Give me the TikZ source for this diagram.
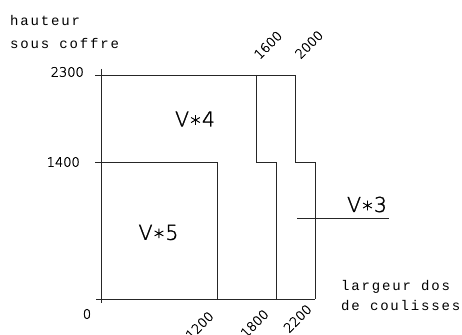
\documentclass[tikz,border=0pt]{standalone}
\usepackage{fontspec}
\setmainfont{DejaVu Sans ExtraLight}[FakeBold=1.5]
\newfontfamily\wordfont{Liberation Mono}[LetterSpace=13]
\begin{document}
\begin{tikzpicture}[x=1pt,y=-1pt,
  ln/.style={line width=0.8pt,draw=black!85},
  num/.style={inner sep=0pt,font=\fontsize{13}{14}\selectfont},
  word/.style={inner sep=0pt,font=\fontsize{14}{15}\wordfont},
  vlab/.style={inner sep=0pt,font=\fontsize{20.5}{22}\selectfont}]
\useasboundingbox (0,0) rectangle (462,334);
% axes
\draw[ln] (101,69) -- (101,303);
\draw[ln] (96,299) -- (315,299);
% curves
\draw[ln] (95,75) -- (295,75);
\draw[ln] (95,162) -- (217,162) -- (217,299);
\draw[ln] (256,75) -- (256,162) -- (276,162) -- (276,299);
\draw[ln] (295,75) -- (295,162) -- (315,162) -- (315,299);
\draw[ln] (297,218) -- (389,218);
% labels
\node[word,anchor=base west] (h1) at (10,25.7) {hauteur};
\node[word,anchor=base west] (h2) at (10,49) {sous coffre};
\node[word,anchor=base west] (l1) at (341,290) {largeur dos};
\node[word,anchor=base west] (l2) at (341,310.7) {de coulisses};
\node[num,anchor=east] (y2300) at (84,72) {2300};
\node[num,anchor=east] (y1400) at (80,162) {1400};
\node[num] (x0) at (87,314) {0};
\node[num,rotate=45] (x1600) at (268,45) {1600};
\node[num,rotate=45] (x2000) at (309,44.5) {2000};
\node[num,rotate=45] (x1200) at (199.5,325.5) {1200};
\node[num,rotate=45] (x1800) at (254.5,323.5) {1800};
\node[num,rotate=45] (x2200) at (297.5,318.5) {2200};
\node[vlab] (v4) at (195,119) {V∗4};
\node[vlab] (v5) at (158.5,232.5) {V∗5};
\node[vlab] (v3) at (367,204.5) {V∗3};
\end{tikzpicture}
\end{document}
